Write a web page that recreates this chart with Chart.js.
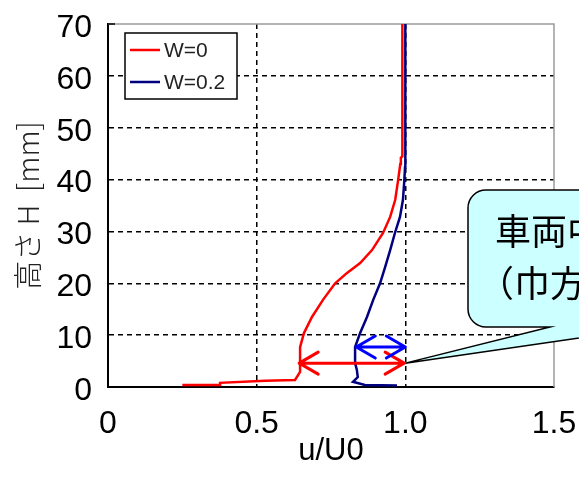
<!DOCTYPE html>
<html>
<head>
<meta charset="utf-8">
<script src="https://cdn.jsdelivr.net/npm/chart.js@4"></script>
<style>
  html, body { margin: 0; padding: 0; background: #fff; }
  #wrap { width: 579px; height: 482px; }
</style>
</head>
<body>
<div id="wrap"><canvas id="c" width="579" height="482"></canvas></div>
<script>
// ---- data ----
const seriesNames = ['W=0', 'W=0.2'];
const redU  = [0.25, 0.377, 0.377, 0.528, 0.629, 0.646, 0.646, 0.659, 0.686, 0.723, 0.764, 0.804, 0.848, 0.888, 0.925, 0.949, 0.966, 0.976, 0.983, 0.985, 0.990, 0.990, 0.990];
const redH  = [0.4,   0.4,   0.8,   1.2,   1.35,  2.9,   7.7,   10.4,  13.5,  16.8,  20.0,  22.0,  23.9,  26.4,  29.7,  32.8,  36.1,  40.0,  43.0,  44.2,  44.5,  60,    70];
const blueU = [0.972, 0.864, 0.824, 0.840, 0.837, 0.831, 0.831, 0.848, 0.871, 0.892, 0.915, 0.932, 0.949, 0.965, 0.982, 0.992, 0.996, 0.999, 1.0,  1.0, 1.0];
const blueH = [0.3,   0.4,   1.0,   1.9,   3.3,   4.6,   7.7,   10.4,  13.5,  16.8,  20.0,  23.1,  26.4,  29.7,  32.8,  36.1,  39.3,  42.4,  50,   60,  70];
const xTickValues = [0, 0.5, 1.0, 1.5];
const xTickLabels = ['0', '0.5', '1.0', '1.5'];
const yTickValues = [0, 10, 20, 30, 40, 50, 60, 70];
const yTickLabels = ['0', '10', '20', '30', '40', '50', '60', '70'];
// double arrows: [uStart, uEnd, H]
const arrowRed  = [0.643, 0.996, 4.6];
const arrowBlue = [0.835, 1.0, 7.7];
const calloutLines = ['車両中心', '（巾方向）'];
const calloutTip = [1.0, 4.6];

const toPts = (us, hs) => us.map((u, i) => ({ x: u, y: hs[i] }));

const decor = {
  id: 'decor',
  beforeDatasetsDraw(chart) {
    const { ctx, chartArea: a } = chart;
    ctx.save();
    ctx.strokeStyle = '#9a9a9a';
    ctx.lineWidth = 1.5;
    ctx.beginPath();
    ctx.moveTo(a.left, a.top);
    ctx.lineTo(a.right, a.top);
    ctx.lineTo(a.right, a.bottom);
    ctx.stroke();
    ctx.strokeStyle = '#000';
    ctx.lineWidth = 1.5;
    ctx.beginPath();
    ctx.moveTo(a.left, a.top);
    ctx.lineTo(a.left + 7, a.top);
    ctx.stroke();
    ctx.restore();
  },
  afterDatasetsDraw(chart) {
    const { ctx, scales: { x, y } } = chart;
    ctx.save();
    // legend
    ctx.fillStyle = '#fff';
    ctx.fillRect(125, 33, 112, 66);
    ctx.strokeStyle = '#000';
    ctx.lineWidth = 1.5;
    ctx.strokeRect(125, 33, 112, 66);
    chart.data.datasets.forEach((ds, i) => {
      const yy = 50 + i * 32;
      ctx.strokeStyle = ds.borderColor;
      ctx.lineWidth = 2.5;
      ctx.beginPath();
      ctx.moveTo(130, yy);
      ctx.lineTo(160, yy);
      ctx.stroke();
      ctx.fillStyle = '#222';
      ctx.font = '21px "Liberation Sans", Arial, sans-serif';
      ctx.textBaseline = 'middle';
      ctx.textAlign = 'left';
      ctx.fillText(ds.label, 164, yy + 1);
    });
    // arrows
    const drawArrow = (arr, color) => {
      const x1 = x.getPixelForValue(arr[0]);
      const x2 = x.getPixelForValue(arr[1]);
      const yy = y.getPixelForValue(arr[2]);
      ctx.strokeStyle = color;
      ctx.lineWidth = 3;
      ctx.lineCap = 'round';
      ctx.lineJoin = 'round';
      ctx.beginPath();
      ctx.moveTo(x1, yy); ctx.lineTo(x2, yy);
      ctx.moveTo(x1 + 19, yy - 11); ctx.lineTo(x1, yy); ctx.lineTo(x1 + 19, yy + 11);
      ctx.moveTo(x2 - 19, yy - 11); ctx.lineTo(x2, yy); ctx.lineTo(x2 - 19, yy + 11);
      ctx.stroke();
    };
    drawArrow(arrowRed, '#ff0000');
    drawArrow(arrowBlue, '#0000ff');
    ctx.restore();
  },
  afterDraw(chart) {
    const { ctx, scales: { x, y } } = chart;
    const tx = x.getPixelForValue(calloutTip[0]);
    const ty = y.getPixelForValue(calloutTip[1]);
    const L = 468, T = 190, B = 327, R = 700, r = 18;
    ctx.save();
    ctx.beginPath();
    ctx.moveTo(L + r, T);
    ctx.lineTo(R, T);
    ctx.lineTo(R, B);
    ctx.lineTo(655, B);
    ctx.lineTo(tx, ty);
    ctx.lineTo(550, B);
    ctx.lineTo(L + r, B);
    ctx.arcTo(L, B, L, B - r, r);
    ctx.lineTo(L, T + r);
    ctx.arcTo(L, T, L + r, T, r);
    ctx.closePath();
    ctx.fillStyle = '#ccffff';
    ctx.fill();
    ctx.strokeStyle = '#000';
    ctx.lineWidth = 1.5;
    ctx.stroke();
    ctx.fillStyle = '#000';
    ctx.font = '36px "Noto Sans CJK JP", sans-serif';
    ctx.textBaseline = 'middle';
    ctx.textAlign = 'left';
    ctx.fillText(calloutLines[0], 495, 231);
    ctx.fillText(calloutLines[1], 478, 283);
    ctx.restore();
  }
};

new Chart(document.getElementById('c'), {
  type: 'scatter',
  data: {
    datasets: [
      { label: seriesNames[0], data: toPts(redU, redH), showLine: true, borderColor: '#ff0000', backgroundColor: '#ff0000', borderWidth: 2.5, pointRadius: 0, tension: 0 },
      { label: seriesNames[1], data: toPts(blueU, blueH), showLine: true, borderColor: '#000080', backgroundColor: '#000080', borderWidth: 2.5, pointRadius: 0, tension: 0 }
    ]
  },
  options: {
    responsive: false,
    animation: false,
    devicePixelRatio: 1,
    layout: { padding: { top: 24, right: 25, left: 0, bottom: 0 } },
    plugins: { legend: { display: false }, tooltip: { enabled: false } },
    scales: {
      x: {
        type: 'linear', min: 0, max: 1.5,
        afterBuildTicks: s => { s.ticks = xTickValues.map(v => ({ value: v })); },
        afterFit: s => { s.height = 95; s.paddingLeft = 0; s.paddingRight = 0; },
        ticks: {
          callback: (v, i) => xTickLabels[i],
          color: '#000', padding: 18, maxRotation: 0,
          font: { family: '"Liberation Sans", Arial, sans-serif', size: 32 }
        },
        grid: {
          drawTicks: false, lineWidth: 1.5,
          color: c => (c.tick && (c.tick.value === 0 || c.tick.value === 1.5)) ? 'rgba(0,0,0,0)' : '#000'
        },
        border: { display: true, color: '#000', width: 2, dash: [5, 4] },
        title: {
          display: true, text: 'u/U0', color: '#000',
          padding: { top: 0, bottom: 12 },
          font: { family: '"Liberation Sans", Arial, sans-serif', size: 31 }
        }
      },
      y: {
        type: 'linear', min: 0, max: 70,
        afterBuildTicks: s => { s.ticks = yTickValues.map(v => ({ value: v })); },
        afterFit: s => { s.width = 108; s.paddingTop = 0; s.paddingBottom = 0; },
        ticks: {
          callback: (v, i) => yTickLabels[i],
          color: '#000', padding: 16, labelOffset: 4,
          font: { family: '"Liberation Sans", Arial, sans-serif', size: 32 }
        },
        grid: {
          drawTicks: false, lineWidth: 1.5,
          color: c => (c.tick && (c.tick.value === 0 || c.tick.value === 70)) ? 'rgba(0,0,0,0)' : '#000'
        },
        border: { display: true, color: '#000', width: 2, dash: [5, 4] },
        title: {
          display: true, text: '高さ H  [mm]', color: '#222',
          padding: { top: 11, bottom: 0 },
          font: { family: '"Noto Sans CJK JP", sans-serif', size: 29, weight: '300' }
        }
      }
    }
  },
  plugins: [decor]
});
</script>
</body>
</html>
